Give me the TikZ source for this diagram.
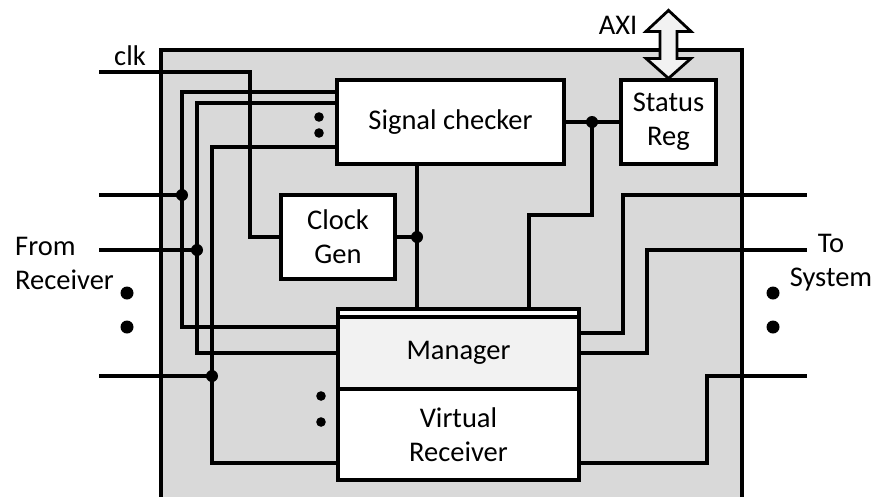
\documentclass[tikz,border=0pt]{standalone}
\usepackage{fontspec}
\setmainfont{Carlito}
\usetikzlibrary{calc}
\definecolor{chipgray}{HTML}{D9D9D9}
\definecolor{mgrfill}{HTML}{F2F2F2}

\begin{document}
\begin{tikzpicture}[x=1pt, y=-1pt,
  blk/.style={draw=black, fill=white, line width=3.2pt, inner sep=0pt,
              align=center, font=\fontsize{28.5}{34}\selectfont},
  wire/.style={line width=3.2pt, draw=black},
  lbl/.style={inner sep=0pt, align=center, font=\fontsize{28.5}{34}\selectfont},
  axi/.style={draw=black, fill=mgrfill, line width=2.8pt}
]
\useasboundingbox (0,0) rectangle (874,496);
\clip (0,0) rectangle (874,496);
\draw[fill=chipgray, line width=3.2pt] (161,50) rectangle (742,530);

\node[blk, minimum width=227, minimum height=84] (sig) at (450.5,122) {Signal checker};
\node[blk, minimum width=95, minimum height=84] (stat) at (668.5,122) {Status\\Reg};
\node[blk, minimum width=114, minimum height=84] (clkgen) at (338,237) {Clock\\Gen};
\node[blk, minimum width=241, minimum height=8] (mgrbar) at (458.5,313) {};
\node[blk, fill=mgrfill, minimum width=241, minimum height=72] (mgr) at (458.5,353) {Manager};
\node[blk, minimum width=241, minimum height=91] (vrx) at (458.5,434.5) {Virtual\\Receiver};

\coordinate (clkin) at (99,72);
\coordinate (in1) at (99,195);
\coordinate (in2) at (99,250);
\coordinate (in3) at (99,376);
\coordinate (d1) at (182,195);
\coordinate (d2) at (197,250);
\coordinate (d3) at (212,376);
\coordinate (out1) at (807,195);
\coordinate (out2) at (807,250);
\coordinate (out3) at (807,376);
\coordinate (r1) at (623,195);
\coordinate (r2) at (647,250);
\coordinate (r3) at (707,376);
\coordinate (cgdot) at (417,237);
\coordinate (scdot) at (592,122);
\coordinate (tapA) at (529,215);

% clock
\draw[wire] (clkin) -- (250,72) |- (clkgen.west);
\draw[wire] (clkgen.east) -- (cgdot);
\draw[wire] (sig.south -| cgdot) -- (mgrbar.north -| cgdot);
% status
\draw[wire] (sig.east) -- (stat.west);
\draw[wire] (scdot) |- (tapA) -- (tapA |- mgrbar.north);
% inputs
\draw[wire] (in1) -- (d1);
\draw[wire] (in2) -- (d2);
\draw[wire] (in3) -- (d3);
\draw[wire] ([yshift=30pt]sig.west) -| (d1) |- ([yshift=26pt]mgr.west);
\draw[wire] ([yshift=19pt]sig.west) -| (d2) |- (mgr.west);
\draw[wire] ([yshift=-25pt]sig.west) -| (d3) |- ([yshift=-28.5pt]vrx.west);
% outputs
\draw[wire] ([yshift=20pt]mgr.east) -| (r1) -- (out1);
\draw[wire] (mgr.east) -| (r2) -- (out2);
\draw[wire] ([yshift=-28.5pt]vrx.east) -| (r3) -- (out3);

\foreach \p in {d1,d2,d3,cgdot,scdot} \fill (\p) circle (6);
\foreach \y in {117,133} \fill (319,\y) circle (4.8);
\foreach \y in {396,422} \fill (321,\y) circle (4.8);
\foreach \y in {293,327} {
  \fill (127,\y) circle (6.5);
  \fill (773,\y) circle (6.5);
}

% bus to the host
\draw[axi] (stat.north) -- ++(-22.5,-20) -- ++(14,0) -- ++(0,-27) -- ++(-14,0)
  -- ++(22.5,-21) -- ++(22.5,21) -- ++(-14,0) -- ++(0,27) -- ++(14,0) -- cycle;

\node[lbl] (axilbl) at (618,25) {AXI};
\node[lbl, anchor=base west] (clklbl) at (114,65) {clk};
\node[lbl, align=left, anchor=west] (fromlbl) at (15,263) {From\\Receiver};
\node[lbl] (tolbl) at (831,263) {To\\System};
\end{tikzpicture}
\end{document}
